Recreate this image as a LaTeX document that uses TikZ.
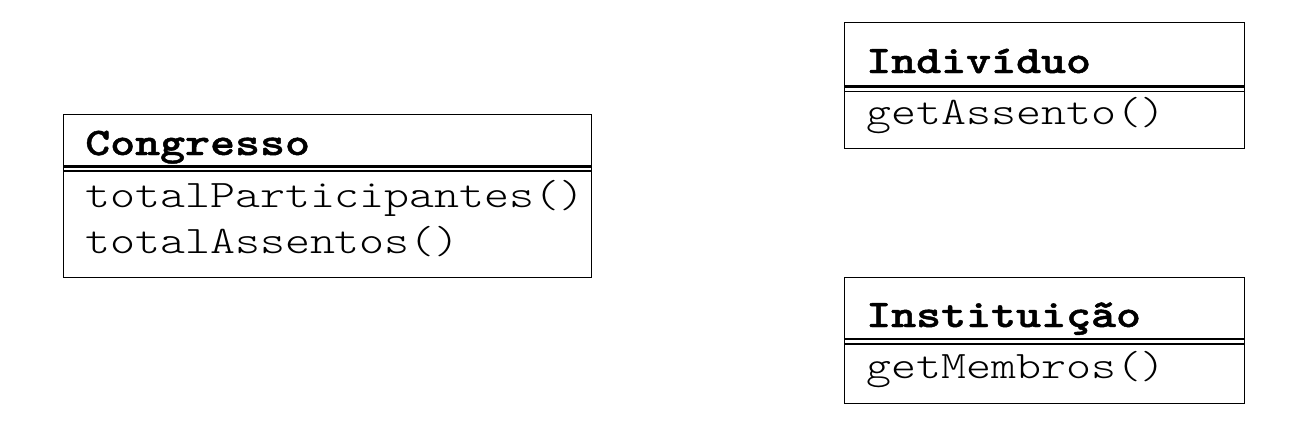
\documentclass[tikz,border=0pt]{standalone}
\usepackage{fontspec}
\newfontfamily\umlreg[FakeStretch=1.22]{lmmonolt10-regular.otf}
\newfontfamily\umlbold[FakeStretch=1.22,FakeBold=1.2]{lmmonolt10-bold.otf}
\begin{document}
\begin{tikzpicture}[x=1pt,y=-1pt,
  classbox/.style={draw=black, line width=1.3pt, rectangle, inner sep=0pt, anchor=north west},
  septhick/.style={line width=2.6pt, black},
  septhin/.style={line width=1.4pt, black},
  title/.style={inner sep=0pt, anchor=base west, font=\fontsize{39}{45}\selectfont\umlbold},
  method/.style={inner sep=0pt, anchor=base west, text=black, font=\fontsize{39}{45}\selectfont\umlreg}
]
\useasboundingbox (0,0) rectangle (1299,447);
\fill[white] (0,0) rectangle (1299,447);

% Congresso
\node[classbox, minimum width=528pt, minimum height=163pt] (congresso) at (63,114) {};
\coordinate (c1l) at (63,166.5); \coordinate (c1r) at (591,166.5);
\coordinate (c2l) at (63,171); \coordinate (c2r) at (591,171);
\draw[septhick] (c1l) -- (c1r);
\draw[septhin] (c2l) -- (c2r);
\node[title] (congressoT) at (85,155) {Congresso};
\node[method] (congressoM1) at (85,207) {totalParticipantes()};
\node[method] (congressoM2) at (85,253) {totalAssentos()};

% Individuo
\node[classbox, minimum width=400pt, minimum height=126pt] (individuo) at (844,22) {};
\coordinate (i1l) at (844,86.5); \coordinate (i1r) at (1244,86.5);
\coordinate (i2l) at (844,91.5); \coordinate (i2r) at (1244,91.5);
\draw[septhick] (i1l) -- (i1r);
\draw[septhin] (i2l) -- (i2r);
\node[title] (individuoT) at (866,73) {Indivíduo};
\node[method] (individuoM1) at (866,124) {getAssento()};

% Instituicao
\node[classbox, minimum width=400pt, minimum height=126pt] (instituicao) at (844,277) {};
\coordinate (n1l) at (844,339); \coordinate (n1r) at (1244,339);
\coordinate (n2l) at (844,344); \coordinate (n2r) at (1244,344);
\draw[septhick] (n1l) -- (n1r);
\draw[septhin] (n2l) -- (n2r);
\node[title] (instituicaoT) at (866,327) {Instituição};
\node[method] (instituicaoM1) at (866,378) {getMembros()};
\end{tikzpicture}
\end{document}
